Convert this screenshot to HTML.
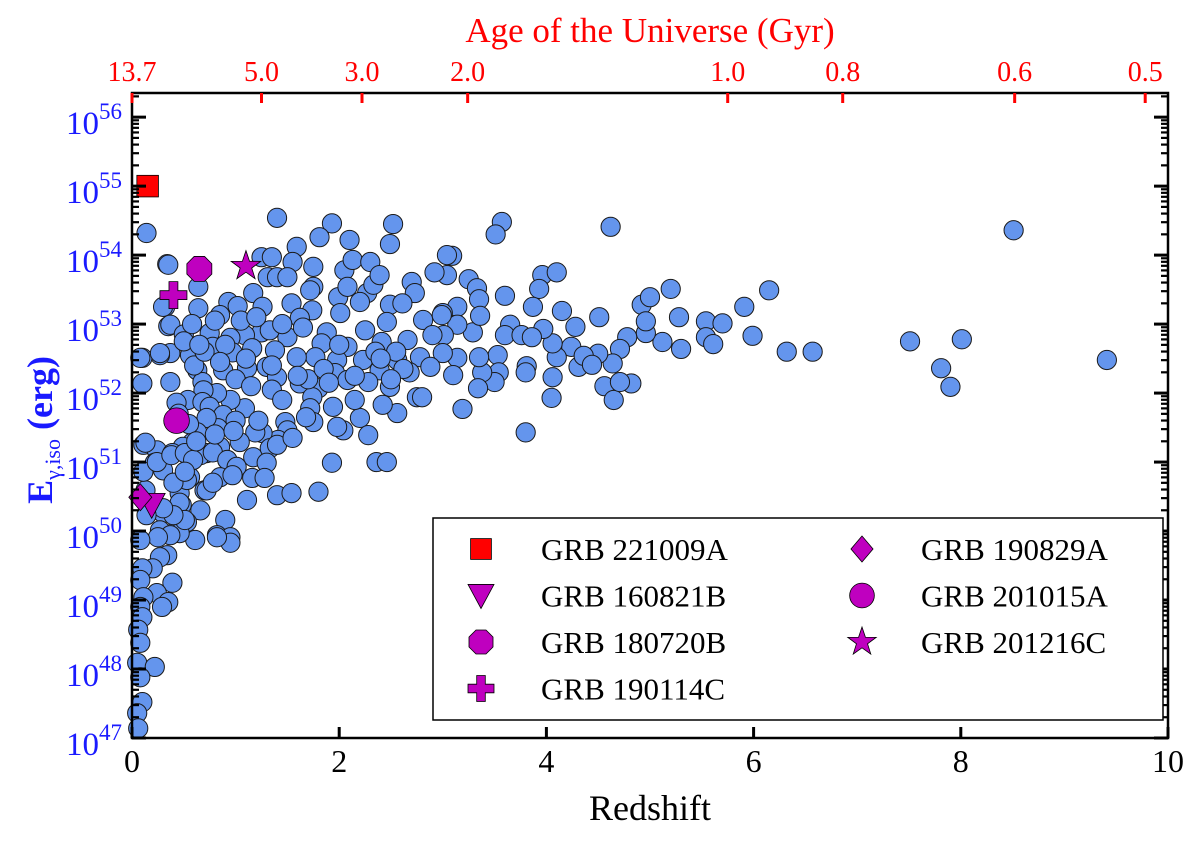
<!DOCTYPE html>
<html><head><meta charset="utf-8"><style>
body{margin:0;background:#fff}
svg text{font-family:"Liberation Serif","DejaVu Serif",serif}
</style></head><body>
<svg id="chart" width="1200" height="841" viewBox="0 0 1200 841" xmlns="http://www.w3.org/2000/svg">
<g id="marks"></g>
<g id="axes"></g>
</svg>
<script>
// ---- data: [redshift, log10 E_iso] ----
const grbRedshift = [8.51,9.41,7.51,7.81,7.90,8.01,6.32,6.57,6.15,
3.57,3.51,3.09,3.04,3.25,3.33,3.35,3.60,3.96,4.10,3.93,3.87,4.15,4.51,4.62,4.92,5.00,5.20,5.28,5.54,5.70,5.91,5.99,5.54,5.61,5.30,5.12,4.96,4.96,4.78,4.71,4.64,4.56,4.65,4.82,4.71,4.50,4.28,4.24,4.31,4.05,3.80,3.19,4.06,4.10,4.06,3.97,3.81,3.80,3.65,3.60,3.53,3.54,3.50,3.38,3.35,3.29,3.36,3.14,3.00,3.14,3.01,3.14,3.10,3.34,3.76,3.86,4.36,4.44,
1.40,0.14,1.93,2.52,1.81,2.10,2.49,1.59,0.34,0.64,1.25,1.35,1.55,1.75,2.05,2.13,2.30,1.31,1.40,1.50,1.75,1.72,1.99,2.08,2.27,2.33,2.39,2.70,2.73,2.92,3.04,1.17,0.93,1.02,1.26,0.64,0.32,0.35,1.54,1.74,2.01,2.20,2.49,2.61,0.85,2.46,2.81,2.99,1.62,2.25,1.88,1.25,1.50,1.33,1.09,0.95,0.75,1.83,2.08,2.41,2.66,2.90,3.00,2.78,2.56,2.39,2.23,1.98,1.77,1.59,1.38,1.16,0.97,0.78,0.56,0.37,0.27,0.10,0.10,0.37,0.63,0.68,0.88,1.11,1.30,1.40,1.62,1.80,1.96,2.08,2.28,2.49,2.68,2.88,2.75,2.80,2.56,2.42,2.20,2.28,2.04,1.98,1.94,1.74,1.72,1.75,1.48,1.50,1.41,1.26,1.19,1.09,0.95,0.82,0.69,0.54,0.43,0.68,0.75,0.88,0.83,0.72,0.63,0.58,0.49,0.72,0.85,1.04,1.17,1.33,0.92,0.99,1.16,1.30,1.28,1.11,1.40,1.54,1.80,1.93,2.36,2.46,0.11,0.24,0.39,0.22,0.30,0.42,0.56,0.70,0.46,0.13,0.30,0.48,0.66,0.53,0.90,0.82,0.95,0.40,0.27,
0.11,0.24,0.38,0.51,0.66,0.78,0.92,1.01,1.40,0.95,0.82,0.61,0.46,0.37,0.25,0.08,0.34,0.27,0.20,0.10,0.08,0.39,0.24,0.35,0.29,0.11,0.08,0.10,0.06,0.08,0.05,0.22,0.08,0.10,0.05,0.06,0.53,0.72,0.40,0.46,0.51,0.40,0.30,0.14,0.85,0.97,0.59,0.51,0.78,
0.35,0.30,0.37,0.27,0.08,0.13,
0.50,0.58,0.80,0.90,1.05,1.20,1.45,1.65,1.70,1.85,2.15,2.35,2.55,2.62,0.60,0.70,0.85,1.00,1.15,1.35,1.60,1.90,2.00,2.40,0.45,0.55,1.00,1.22,1.45,1.68,2.15,0.62,0.80,0.98,1.55,0.50,0.65,1.10,1.35,2.50];
const grbLogE = [54.36,52.48,52.75,52.36,52.09,52.78,52.60,52.60,53.49,
54.48,54.30,53.99,53.71,53.65,53.52,53.36,53.41,53.71,53.75,53.51,53.25,53.19,53.10,54.41,53.28,53.39,53.51,53.10,53.04,53.01,53.25,52.83,52.81,52.71,52.64,52.74,52.87,53.04,52.81,52.64,52.43,52.10,51.90,52.14,52.16,52.57,52.96,52.67,52.38,51.93,51.43,51.77,52.23,52.52,52.72,52.93,52.39,52.30,52.99,52.84,52.55,52.30,52.16,52.30,52.52,52.88,53.12,53.25,53.16,52.99,52.84,52.51,52.26,52.07,52.84,52.81,52.54,52.41,
54.54,54.32,54.46,54.45,54.26,54.22,54.16,54.12,53.87,53.54,53.97,53.97,53.90,53.83,53.78,53.93,53.90,53.68,53.68,53.68,53.54,53.49,53.39,53.54,53.45,53.57,53.71,53.61,53.45,53.75,54.00,53.45,53.32,53.26,53.25,53.23,53.25,52.97,53.30,53.20,53.16,53.32,53.28,53.30,53.13,53.03,53.06,53.13,53.09,52.91,52.88,52.88,52.81,52.91,52.84,52.80,52.87,52.72,52.67,52.74,52.77,52.84,52.58,52.52,52.48,52.33,52.48,52.48,52.52,52.52,52.62,52.65,52.59,52.67,52.55,52.58,52.55,52.51,52.14,52.16,52.33,52.16,52.33,52.36,52.38,52.23,52.14,52.07,52.29,52.19,52.16,52.09,52.30,52.38,51.94,51.94,51.71,51.83,51.64,51.39,51.46,51.51,51.80,51.94,51.78,51.58,51.58,51.46,51.32,51.42,51.43,51.78,51.90,52.00,52.04,51.90,51.86,51.87,51.80,51.68,51.49,51.64,51.43,51.28,51.22,51.13,51.22,51.29,51.07,51.20,51.03,50.93,50.77,50.99,50.77,50.45,50.52,50.55,50.57,50.99,51.00,51.00,51.25,51.17,51.13,50.99,50.88,50.70,50.78,50.59,50.55,50.59,50.26,50.38,50.30,50.13,50.16,49.94,49.91,49.97,50.01,
50.86,51.00,51.10,51.13,51.10,51.14,51.03,50.93,51.25,49.83,49.91,49.87,49.97,49.94,49.91,49.87,49.65,49.62,49.46,49.46,49.29,49.25,49.10,48.97,48.90,49.04,48.90,48.75,48.57,48.38,48.09,48.03,47.88,47.52,47.36,47.14,50.74,50.59,50.70,50.41,50.16,50.23,50.33,50.23,50.78,50.81,51.03,50.86,50.70,
53.86,53.25,52.99,52.58,52.51,51.28,
52.85,53.00,53.05,52.70,53.05,53.10,53.00,52.95,52.20,52.35,52.25,52.60,52.60,52.35,52.40,52.60,52.45,52.20,52.10,52.05,52.25,52.15,52.70,52.50,51.70,51.55,51.60,51.60,51.90,51.65,51.90,51.30,51.40,51.45,51.35,52.75,52.70,52.50,52.40,52.20];
const specialNames = ["GRB 221009A","GRB 160821B","GRB 180720B","GRB 190114C","GRB 190829A","GRB 201015A","GRB 201216C"];
const specialRedshift = [0.151,0.19,0.65,0.40,0.08,0.43,1.10];
const specialLogE = [55.0,50.38,53.80,53.42,50.49,51.60,53.84];
const specialShapes = ["square","triangle","octagon","plus","diamond","circle","star"];
const xTicks = [0,2,4,6,8,10];
const yDecades = [47,48,49,50,51,52,53,54,55,56];
const ageLabels = ["13.7","5.0","3.0","2.0","1.0","0.8","0.6","0.5"];
const ageRedshift = [0,1.25,2.22,3.24,5.75,6.86,8.52,9.78];

// ---- scales ----
const L=132,R=1168,T=93,B=738;
const X=z=>L+(z-0)/(10-0)*(R-L);
const Y=v=>B-(v-47)/(56.35-47)*(B-T);
const NS="http://www.w3.org/2000/svg";
function mk(tag,attrs,parent){const e=document.createElementNS(NS,tag);for(const k in attrs)e.setAttribute(k,attrs[k]);parent.appendChild(e);return e;}
const marks=document.getElementById('marks'), axes=document.getElementById('axes');

let fr=mk('rect',{x:L,y:T,width:R-L,height:B-T,fill:'none',stroke:'#000','stroke-width':2.5},axes);



for(let i=0;i<grbRedshift.length;i++){
  const c=mk('circle',{cx:X(grbRedshift[i]),cy:Y(grbLogE[i]),r:9.6,fill:'#6495ED',stroke:'#1a1a1a','stroke-width':1},marks);
  
  
}
function shape(kind,cx,cy,s,parent,fill){
  const st={fill:fill,stroke:'#000','stroke-width':0.8};let e;
  if(kind==='square'){e=mk('rect',Object.assign({x:cx-s*0.8,y:cy-s*0.8,width:s*1.6,height:s*1.6},st),parent);}
  else if(kind==='triangle'){e=mk('polygon',Object.assign({points:`${cx-s},${cy-s*0.85} ${cx+s},${cy-s*0.85} ${cx},${cy+s}`},st),parent);}
  else if(kind==='octagon'){let p=[];for(let k=0;k<8;k++){const a=Math.PI/8+k*Math.PI/4;p.push((cx+s*Math.cos(a))+','+(cy+s*Math.sin(a)));}e=mk('polygon',Object.assign({points:p.join(' ')},st),parent);}
  else if(kind==='plus'){const w=s*0.33;e=mk('polygon',Object.assign({points:`${cx-w},${cy-s} ${cx+w},${cy-s} ${cx+w},${cy-w} ${cx+s},${cy-w} ${cx+s},${cy+w} ${cx+w},${cy+w} ${cx+w},${cy+s} ${cx-w},${cy+s} ${cx-w},${cy+w} ${cx-s},${cy+w} ${cx-s},${cy-w} ${cx-w},${cy-w}`},st),parent);}
  else if(kind==='diamond'){e=mk('polygon',Object.assign({points:`${cx},${cy-s} ${cx+s*0.85},${cy} ${cx},${cy+s} ${cx-s*0.85},${cy}`},st),parent);}
  else if(kind==='circle'){e=mk('circle',Object.assign({cx:cx,cy:cy,r:s*0.95},st),parent);}
  else {let p=[];for(let k=0;k<10;k++){const a=-Math.PI/2+k*Math.PI/5,r=k%2?s*0.45:s*1.15;p.push((cx+r*Math.cos(a))+','+(cy+r*Math.sin(a)));}e=mk('polygon',Object.assign({points:p.join(' ')},st),parent);}
  return e;
}
for(let i=0;i<specialNames.length;i++){
  const e=shape(specialShapes[i],X(specialRedshift[i]),Y(specialLogE[i]),13.5,marks,i===0?'#ff0000':'#bf00bf');
  
  
}

xTicks.forEach(t=>{
  mk('line',{x1:X(t),x2:X(t),y1:B,y2:B-11,stroke:'#000','stroke-width':3},axes);
  const tx=mk('text',{x:X(t),y:B+34,'font-size':32,'text-anchor':'middle',fill:'#000'},axes);tx.textContent=t;
  
  
});
yDecades.forEach(d=>{
  [[L,1],[R,-1]].forEach(([x0,dir])=>{
    mk('line',{x1:x0,x2:x0+dir*14,y1:Y(d),y2:Y(d),stroke:'#000','stroke-width':3},axes);
    for(let m=2;m<10;m++){const v=d+Math.log10(m);if(v>56.35)break;
      mk('line',{x1:x0,x2:x0+dir*7,y1:Y(v),y2:Y(v),stroke:'#000','stroke-width':2.2},axes);}
  });
  const t=mk('text',{x:122,y:Y(d)+17,'font-size':33,'text-anchor':'end',fill:'#1a1aff'},axes);
  
  
  const a=mk('tspan',{},t);a.textContent='10';
  const b=mk('tspan',{dy:-15,'font-size':23},t);b.textContent=String(d);
});
ageLabels.forEach((lab,i)=>{
  const x=X(ageRedshift[i]);
  mk('line',{x1:x,x2:x,y1:T,y2:T+10,stroke:'#ff0000','stroke-width':3},axes);
  const t=mk('text',{x:x,y:T-12,'font-size':28,'text-anchor':'middle',fill:'#ff0000'},axes);t.textContent=lab;
  
  
});
const lg=mk('g',{},axes);


mk('rect',{x:433,y:518,width:730,height:202,fill:'#fff',stroke:'#000','stroke-width':1.5},lg);
[0,1,2,3,4,5,6].forEach((idx,j)=>{
  const col=j<4?0:1,row=j<4?j:j-4;
  const mx=col?862:481,ty=549+row*46.5;
  const e=shape(specialShapes[idx],mx,ty,13,lg,idx===0?'#ff0000':'#bf00bf');
  
  
  const t=mk('text',{x:col?921:541,y:ty+11,'font-size':31,fill:'#000'},lg);t.textContent=specialNames[idx];
  
  
});
</script>
<svg style="position:absolute;left:0;top:0" width="1200" height="841">
<text x="650" y="820" font-size="36" text-anchor="middle" font-family="Liberation Serif, serif">Redshift</text>
<text x="650" y="42" font-size="35" text-anchor="middle" fill="#ff0000" font-family="Liberation Serif, serif">Age of the Universe (Gyr)</text>
<text transform="translate(52,430) rotate(-90)" font-size="36" font-weight="bold" text-anchor="middle" fill="#1a1aff" font-family="Liberation Serif, serif">E<tspan dy="8" font-size="22" font-weight="normal">γ,iso</tspan><tspan dy="-8"> (erg)</tspan></text>
</svg>
</body></html>
